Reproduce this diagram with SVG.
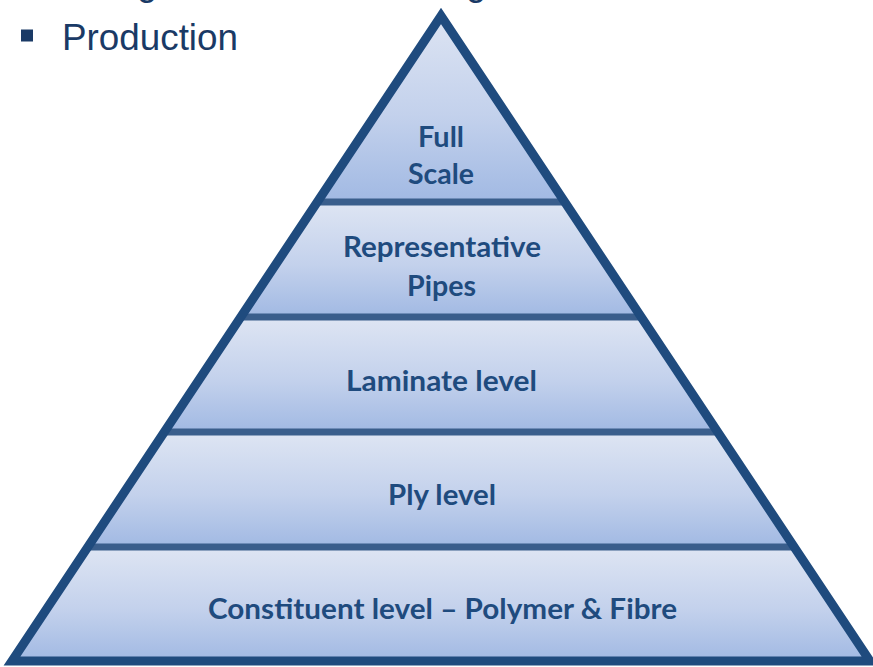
<svg xmlns="http://www.w3.org/2000/svg" width="873" height="667" viewBox="0 0 873 667">
  <defs>
    <linearGradient id="bandFill" x1="0" y1="0" x2="0" y2="1">
      <stop offset="0" stop-color="#DEE5F3"/>
      <stop offset="0.55" stop-color="#C3D1EC"/>
      <stop offset="1" stop-color="#A1B9E3"/>
    </linearGradient>
    <clipPath id="pyramidClip">
      <polygon points="441,16 12,661 870,661"/>
    </clipPath>
    <style>
      .band { fill: url(#bandFill); }
      .divider { stroke: #3A5E8C; stroke-width: 7; }
      .outline { fill: none; stroke: #1F4B7E; stroke-width: 9; stroke-linejoin: miter; }
      .label { font-family: Lato, "Open Sans", "Liberation Sans", sans-serif; font-weight: 700; font-size: 28px; fill: #1F4B7E; text-anchor: middle; }
      .heading { font-family: "Liberation Sans", Arial, sans-serif; font-size: 36.5px; fill: #1A3A66; }
    </style>
  </defs>

  <rect width="873" height="667" fill="#FFFFFF"/>

  <!-- slide heading: previous bullet line runs off the top edge -->
  <g id="heading">
    <text class="heading" x="137" y="-5">g</text>
    <text class="heading" x="466" y="-5">g</text>
    <rect x="21" y="29.5" width="12" height="12" fill="#1A3A66"/>
    <text class="heading" x="62" y="50" textLength="176" lengthAdjust="spacingAndGlyphs">Production</text>
  </g>

  <!-- pyramid tiers, top to bottom -->
  <g clip-path="url(#pyramidClip)">
    <g id="tier-full-scale">
      <rect class="band" x="0" y="10" width="873" height="192"/>
    </g>
    <g id="tier-representative-pipes">
      <rect class="band" x="0" y="202" width="873" height="115"/>
    </g>
    <g id="tier-laminate">
      <rect class="band" x="0" y="317" width="873" height="115"/>
    </g>
    <g id="tier-ply">
      <rect class="band" x="0" y="432" width="873" height="115"/>
    </g>
    <g id="tier-constituent">
      <rect class="band" x="0" y="547" width="873" height="114"/>
    </g>
  </g>

  <!-- tier separators -->
  <g id="connectors" clip-path="url(#pyramidClip)">
    <line class="divider" x1="0" y1="202" x2="873" y2="202"/>
    <line class="divider" x1="0" y1="317" x2="873" y2="317"/>
    <line class="divider" x1="0" y1="432" x2="873" y2="432"/>
    <line class="divider" x1="0" y1="547" x2="873" y2="547"/>
  </g>

  <polygon id="pyramid-outline" class="outline" points="441,16 12,661 870,661"/>

  <!-- tier labels -->
  <g id="labels">
    <text class="label" x="441" y="147" textLength="46" lengthAdjust="spacingAndGlyphs">Full</text>
    <text class="label" x="441" y="184" textLength="66" lengthAdjust="spacingAndGlyphs">Scale</text>
    <text class="label" x="442" y="257" textLength="198" lengthAdjust="spacingAndGlyphs">Representative</text>
    <text class="label" x="441.5" y="296" textLength="69" lengthAdjust="spacingAndGlyphs">Pipes</text>
    <text class="label" x="441.5" y="391" textLength="191" lengthAdjust="spacingAndGlyphs">Laminate level</text>
    <text class="label" x="442" y="505" textLength="108" lengthAdjust="spacingAndGlyphs">Ply level</text>
    <text class="label" x="442.5" y="619" textLength="469" lengthAdjust="spacingAndGlyphs">Constituent level – Polymer &amp; Fibre</text>
  </g>
</svg>
